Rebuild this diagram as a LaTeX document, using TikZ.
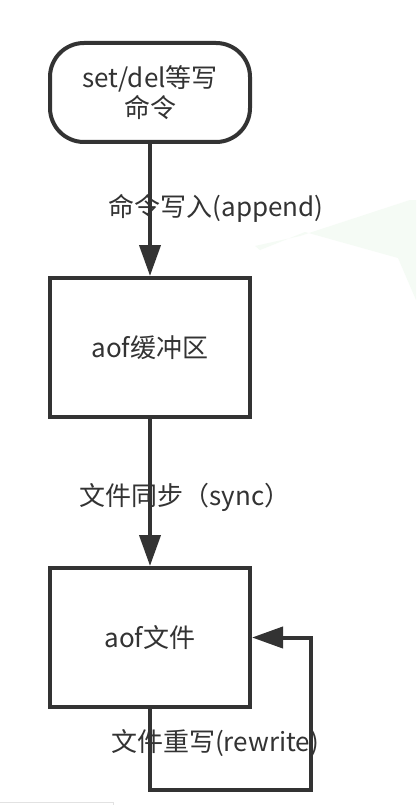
\documentclass[tikz,border=0pt]{standalone}
\usepackage{fontspec}
\setmainfont{Noto Sans CJK SC}
\usetikzlibrary{arrows.meta}
\definecolor{ink}{HTML}{333333}
\definecolor{wm}{RGB}{245,251,245}
\definecolor{edgegray}{HTML}{E2E2E2}
\begin{document}
\begin{tikzpicture}[x=1pt,y=-1pt,
  every node/.style={text=ink,font=\fontsize{26}{30}\selectfont},
  flowbox/.style={draw=ink,line width=4pt,minimum width=200pt,minimum height=139pt,inner sep=0pt,align=center},
  termbox/.style={draw=ink,line width=4pt,minimum width=200pt,minimum height=99pt,inner sep=0pt,rounded corners=34pt,align=center},
  flowarrow/.style={draw=ink,line width=4pt,-{Triangle[length=31pt,width=21pt]}},
  edgelabel/.style={inner sep=0pt}]
\useasboundingbox (0,0) rectangle (416,805);
\fill[white] (0,0) rectangle (416,805);
% faint watermark
\fill[wm] (255,246) -- (300,236) -- (410,200) -- (416,200) -- (416,300) -- (398,258) -- (305,232) -- (260,250) -- cycle;
\draw[edgegray,line width=1pt] (0,802) -- (113,802) -- (113,805);
% nodes
\node[termbox] (cmd) at (150,92.5) {set/del等写\\命令};
\node[flowbox] (buf) at (150,347.5) {aof缓冲区};
\node[flowbox] (file) at (150,637.5) {aof文件};
\coordinate (loopc) at (311,790);
% connectors
\draw[flowarrow] (cmd.south) -- (buf.north);
\draw[flowarrow] (buf.south) -- (file.north);
\draw[flowarrow] (file.south) |- (loopc) |- (file.east);
% labels
\node[edgelabel] (l1) at (216,208) {命令写入(append)};
\node[edgelabel] (l2) at (185,497) {文件同步（sync）};
\node[edgelabel] (l3) at (215,743) {文件重写(rewrite)};
\end{tikzpicture}
\end{document}
